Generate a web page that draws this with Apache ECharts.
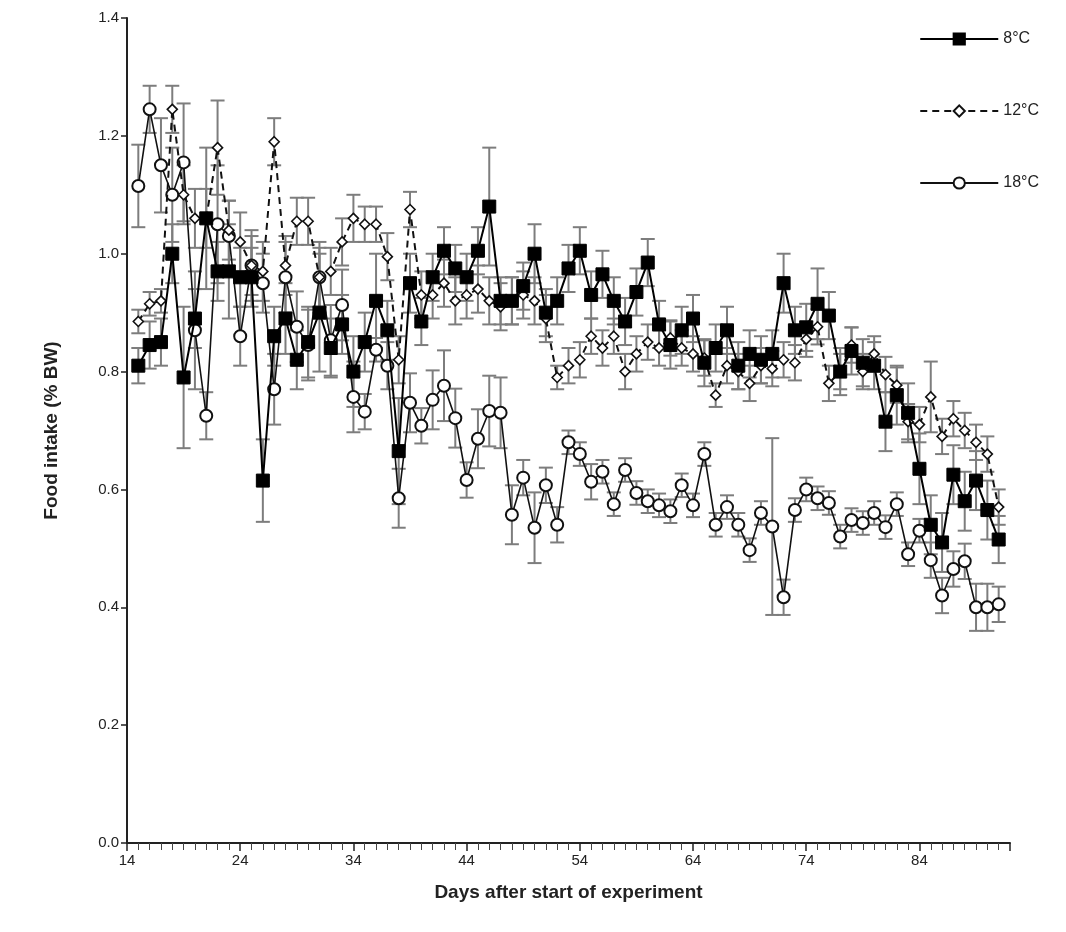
<!DOCTYPE html>
<html>
<head>
<meta charset="utf-8">
<script src="https://cdn.jsdelivr.net/npm/echarts@6/dist/echarts.min.js"></script>
<style>
  html, body { margin: 0; padding: 0; background: #fff; }
  #chart { width: 1066px; height: 932px; }
</style>
</head>
<body>
<div id="chart"></div>
<script>
// Daily food intake (% body weight) at three rearing temperatures, mean ± SE
const days = [15,16,17,18,19,20,21,22,23,24,25,26,27,28,29,30,31,32,33,34,35,36,37,38,39,40,41,42,43,44,45,46,47,48,49,50,51,52,53,54,55,56,57,58,59,60,61,62,63,64,65,66,67,68,69,70,71,72,73,74,75,76,77,78,79,80,81,82,83,84,85,86,87,88,89,90,91];

const mean8 = [0.81,0.845,0.85,1.00,0.79,0.89,1.06,0.97,0.97,0.96,
  0.96,0.615,0.86,0.89,0.82,0.85,0.90,0.84,0.88,0.80,
  0.85,0.92,0.87,0.665,0.95,0.885,0.96,1.005,0.975,0.96,
  1.005,1.08,0.92,0.92,0.945,1.00,0.90,0.92,0.975,1.005,
  0.93,0.965,0.92,0.885,0.935,0.985,0.88,0.845,0.87,0.89,
  0.815,0.84,0.87,0.81,0.83,0.82,0.83,0.95,0.87,0.875,
  0.915,0.895,0.80,0.835,0.815,0.81,0.715,0.76,0.73,0.635,
  0.54,0.51,0.625,0.58,0.615,0.565,0.515];
const se8 = [0.03,0.04,0.04,0.05,0.12,0.05,0.12,0.05,0.08,0.05,
  0.05,0.07,0.05,0.06,0.05,0.06,0.10,0.05,0.05,0.06,
  0.05,0.08,0.05,0.09,0.05,0.04,0.04,0.04,0.04,0.04,
  0.04,0.10,0.04,0.04,0.04,0.05,0.04,0.04,0.04,0.04,
  0.04,0.04,0.04,0.04,0.04,0.04,0.04,0.04,0.04,0.04,
  0.04,0.04,0.04,0.04,0.04,0.04,0.04,0.05,0.04,0.04,
  0.06,0.04,0.04,0.04,0.04,0.04,0.05,0.05,0.05,0.06,
  0.05,0.05,0.05,0.05,0.05,0.05,0.04];

const mean12 = [0.885,0.915,0.92,1.245,1.10,1.06,1.06,1.18,1.04,1.02,
  0.98,0.97,1.19,0.98,1.055,1.055,0.96,0.97,1.02,1.06,
  1.05,1.05,0.995,0.82,1.075,0.93,0.93,0.95,0.92,0.93,
  0.94,0.92,0.91,0.92,0.93,0.92,0.89,0.79,0.81,0.82,
  0.86,0.84,0.86,0.80,0.83,0.85,0.84,0.857,0.84,0.83,
  0.823,0.76,0.81,0.80,0.78,0.81,0.805,0.82,0.815,0.855,
  0.876,0.78,0.80,0.845,0.80,0.83,0.795,0.777,0.715,0.71,
  0.757,0.69,0.72,0.70,0.68,0.66,0.57];
const se12 = [0.02,0.02,0.02,0.04,0.05,0.05,0.05,0.08,0.05,0.05,
  0.05,0.05,0.04,0.05,0.04,0.04,0.05,0.04,0.04,0.04,
  0.03,0.03,0.04,0.04,0.03,0.04,0.04,0.04,0.04,0.04,
  0.04,0.04,0.04,0.04,0.04,0.04,0.04,0.02,0.03,0.03,
  0.03,0.03,0.03,0.03,0.03,0.03,0.03,0.03,0.03,0.03,
  0.03,0.02,0.03,0.03,0.03,0.03,0.03,0.03,0.03,0.03,
  0.03,0.03,0.03,0.03,0.03,0.03,0.03,0.03,0.03,0.03,
  0.06,0.03,0.03,0.03,0.03,0.03,0.03];

const mean18 = [1.115,1.245,1.15,1.10,1.155,0.87,0.725,1.05,1.03,0.86,
  0.98,0.95,0.77,0.96,0.876,0.845,0.96,0.853,0.913,0.757,
  0.732,0.837,0.81,0.585,0.747,0.708,0.752,0.776,0.721,0.616,
  0.686,0.733,0.73,0.557,0.62,0.535,0.607,0.54,0.68,0.66,
  0.613,0.63,0.575,0.633,0.594,0.58,0.573,0.563,0.607,0.573,
  0.66,0.54,0.57,0.54,0.497,0.56,0.537,0.417,0.565,0.60,
  0.585,0.577,0.52,0.548,0.543,0.56,0.536,0.575,0.49,0.53,
  0.48,0.42,0.465,0.478,0.40,0.40,0.405];
const se18 = [0.07,0.04,0.08,0.08,0.10,0.10,0.04,0.10,0.06,0.05,
  0.06,0.05,0.06,0.06,0.06,0.06,0.06,0.06,0.06,0.06,
  0.03,0.02,0.04,0.05,0.05,0.03,0.05,0.06,0.05,0.03,
  0.05,0.06,0.06,0.05,0.03,0.06,0.03,0.03,0.02,0.02,
  0.03,0.02,0.02,0.02,0.02,0.02,0.02,0.02,0.02,0.02,
  0.02,0.02,0.02,0.02,0.02,0.02,0.15,0.03,0.02,0.02,
  0.02,0.02,0.02,0.02,0.02,0.02,0.02,0.02,0.02,0.02,
  0.03,0.03,0.03,0.03,0.04,0.04,0.03];

const yTicks = ['0.0','0.2','0.4','0.6','0.8','1.0','1.2','1.4'];

const FONT = '"Liberation Sans", Arial, Helvetica, sans-serif';
const BAR_COLOR = '#7d7d7d';

function pairs(vals) {
  return days.map((d, i) => [d, vals[i]]);
}

// vertical error bars with caps, drawn underneath the markers
function errorBars(vals, ses, z) {
  return {
    type: 'custom',
    silent: true,
    z: z,
    data: days.map((d, i) => [d, vals[i] - ses[i], vals[i] + ses[i]]),
    encode: { x: 0, y: [1, 2] },
    renderItem: function (params, api) {
      const x = api.value(0);
      const lo = api.coord([x, api.value(1)]);
      const hi = api.coord([x, api.value(2)]);
      const w = 7;
      const st = { stroke: BAR_COLOR, lineWidth: 2 };
      return {
        type: 'group',
        children: [
          { type: 'line', shape: { x1: lo[0], y1: lo[1], x2: hi[0], y2: hi[1] }, style: st },
          { type: 'line', shape: { x1: hi[0] - w, y1: hi[1], x2: hi[0] + w, y2: hi[1] }, style: st },
          { type: 'line', shape: { x1: lo[0] - w, y1: lo[1], x2: lo[0] + w, y2: lo[1] }, style: st }
        ]
      };
    }
  };
}

const chart = echarts.init(document.getElementById('chart'), null, { renderer: 'canvas' });

chart.setOption({
  animation: false,
  backgroundColor: '#ffffff',
  textStyle: { fontFamily: FONT },
  grid: { left: 127, right: 56, top: 18, bottom: 89, containLabel: false },
  legend: {
    orient: 'vertical',
    right: 22,
    top: 26,
    itemGap: 56,
    itemWidth: 78,
    itemHeight: 14,
    textStyle: { fontFamily: FONT, fontSize: 16, color: '#222' },
    data: ['8°C', '12°C', '18°C']
  },
  xAxis: {
    type: 'value',
    min: 14,
    max: 92,
    interval: 10,
    name: 'Days after start of experiment',
    nameLocation: 'middle',
    nameGap: 40,
    nameTextStyle: { fontFamily: FONT, fontSize: 19, fontWeight: 'bold', color: '#222' },
    axisLine: { show: true, onZero: false, lineStyle: { color: '#222', width: 2 } },
    axisTick: { show: true, inside: false, length: 8, lineStyle: { color: '#222', width: 1.5 } },
    minorTick: { show: true, splitNumber: 10, length: 7, lineStyle: { color: '#444', width: 1 } },
    axisLabel: {
      fontFamily: FONT, fontSize: 15, color: '#222', margin: 10,
      showMaxLabel: false,
      formatter: v => (v >= 14 && v <= 84 ? String(v) : '')
    },
    splitLine: { show: false }
  },
  yAxis: {
    type: 'value',
    min: 0,
    max: 1.4,
    interval: 0.2,
    name: 'Food intake (% BW)',
    nameLocation: 'middle',
    nameGap: 66,
    nameRotate: 90,
    nameTextStyle: { fontFamily: FONT, fontSize: 19, fontWeight: 'bold', color: '#222' },
    axisLine: { show: true, lineStyle: { color: '#222', width: 2 } },
    axisTick: { show: true, inside: false, length: 6, lineStyle: { color: '#222', width: 1.5 } },
    axisLabel: {
      fontFamily: FONT, fontSize: 15, color: '#222', margin: 8,
      formatter: v => yTicks[Math.round(v / 0.2)]
    },
    splitLine: { show: false }
  },
  series: [
    errorBars(mean18, se18, 1),
    errorBars(mean12, se12, 1),
    errorBars(mean8, se8, 1),
    {
      name: '18°C',
      type: 'line',
      z: 3,
      data: pairs(mean18),
      symbol: 'circle',
      symbolSize: 12,
      lineStyle: { color: '#111', width: 1.6 },
      itemStyle: { color: '#fff', borderColor: '#111', borderWidth: 2 }
    },
    {
      name: '12°C',
      type: 'line',
      z: 4,
      data: pairs(mean12),
      symbol: 'diamond',
      symbolSize: 10,
      lineStyle: { color: '#111', width: 2, type: [7, 5] },
      itemStyle: { color: '#fff', borderColor: '#111', borderWidth: 1.6 }
    },
    {
      name: '8°C',
      type: 'line',
      z: 5,
      data: pairs(mean8),
      symbol: 'rect',
      symbolSize: 13,
      lineStyle: { color: '#000', width: 2 },
      itemStyle: { color: '#000', borderColor: '#000', borderWidth: 1 }
    }
  ]
});
</script>
</body>
</html>
